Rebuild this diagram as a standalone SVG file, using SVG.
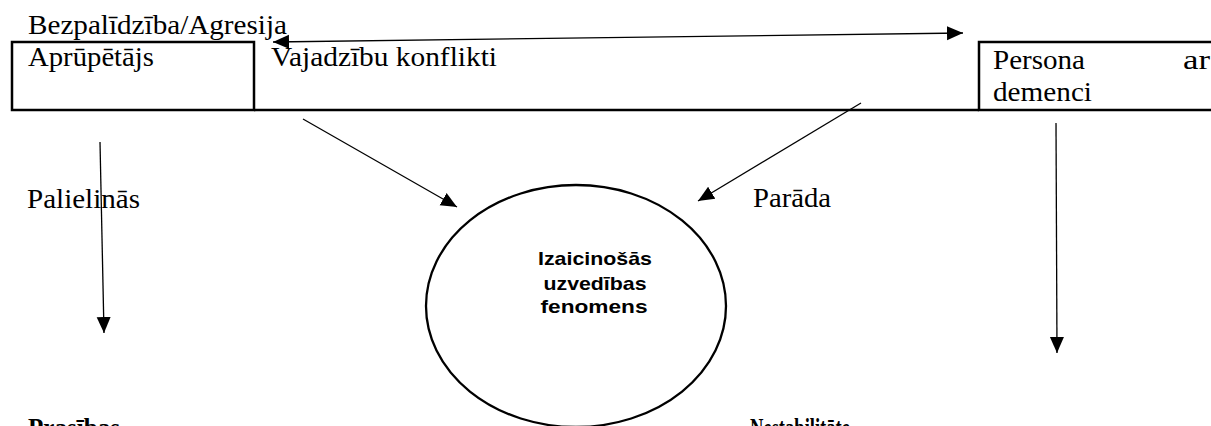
<svg xmlns="http://www.w3.org/2000/svg" width="1211" height="426" viewBox="0 0 1211 426">
<style>
.t{font-family:"Liberation Serif","Times New Roman",serif;font-size:27px;fill:#000}
.tb{font-family:"Liberation Serif","Times New Roman",serif;font-size:27px;font-weight:bold;fill:#000}
.e{font-family:"Liberation Sans",Arial,sans-serif;font-size:19px;font-weight:bold;fill:#000;text-anchor:middle}
.box{fill:none;stroke:#000;stroke-width:2.5}
.c{fill:none;stroke:#000;stroke-width:1.3}
</style>
<defs>
<marker id="ah" markerUnits="userSpaceOnUse" markerWidth="16" markerHeight="16" viewBox="0 0 16 16" refX="16" refY="8" orient="auto-start-reverse">
<path d="M0,1 L16,8 L0,15 Z" fill="#000"/>
</marker>
</defs>
<g id="label-top"><text class="t" x="28" y="34" textLength="259" lengthAdjust="spacingAndGlyphs">Bezpalīdzība/Agresija</text></g>
<g id="node-aprupetajs">
<rect class="box" x="12" y="42" width="242" height="68"/>
<text class="t" x="28" y="66" textLength="126" lengthAdjust="spacingAndGlyphs">Aprūpētājs</text>
</g>
<g id="node-vajadzibu">
<line class="box" x1="254" y1="110" x2="979" y2="110"/>
<text class="t" x="271" y="66" textLength="226" lengthAdjust="spacingAndGlyphs">Vajadzību konflikti</text>
</g>
<g id="node-persona">
<path class="box" d="M1212,42 H979 V110 H1212"/>
<text class="t" x="993" y="69" textLength="92" lengthAdjust="spacingAndGlyphs">Persona</text>
<text class="t" x="1183" y="69" textLength="27" lengthAdjust="spacingAndGlyphs">ar</text>
<text class="t" x="993" y="101" textLength="99" lengthAdjust="spacingAndGlyphs">demenci</text>
</g>
<g id="node-fenomens">
<ellipse cx="576" cy="306" rx="150" ry="121" fill="none" stroke="#000" stroke-width="2.3"/>
<text class="e" x="595" y="265" textLength="114" lengthAdjust="spacingAndGlyphs">Izaicinošās</text>
<text class="e" x="595" y="290" textLength="103" lengthAdjust="spacingAndGlyphs">uzvedības</text>
<text class="e" x="594" y="313" textLength="107" lengthAdjust="spacingAndGlyphs">fenomens</text>
</g>
<g id="label-palielinas"><text class="t" x="27" y="208" textLength="113" lengthAdjust="spacingAndGlyphs">Palielinās</text></g>
<g id="label-parada"><text class="t" x="753" y="207" textLength="78" lengthAdjust="spacingAndGlyphs">Parāda</text></g>
<g id="node-bottom-left"><text class="tb" x="28" y="437" textLength="92" lengthAdjust="spacingAndGlyphs">Prasības</text></g>
<g id="node-bottom-right"><text class="tb" x="750" y="437" textLength="100" lengthAdjust="spacingAndGlyphs">Nestabilitāte</text></g>
<g id="connectors">
<line class="c" x1="273" y1="42" x2="963" y2="33" marker-start="url(#ah)" marker-end="url(#ah)"/>
<line class="c" x1="100" y1="142" x2="104" y2="333" marker-end="url(#ah)"/>
<line class="c" x1="1056" y1="123" x2="1057" y2="353" marker-end="url(#ah)"/>
<line class="c" x1="303" y1="119" x2="457" y2="207" marker-end="url(#ah)"/>
<line class="c" x1="861" y1="103" x2="698" y2="201" marker-end="url(#ah)"/>
</g>
</svg>
